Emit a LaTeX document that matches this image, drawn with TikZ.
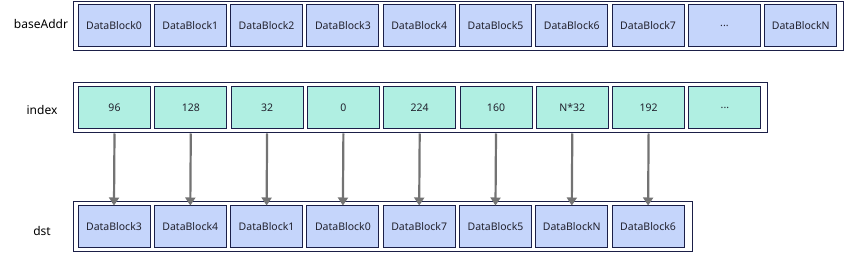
\documentclass[tikz,border=0pt]{standalone}
\usepackage{fontspec}
\setmainfont{Noto Sans}
\usetikzlibrary{arrows.meta}
\definecolor{bfill}{HTML}{C5D5FB}
\definecolor{mfill}{HTML}{B0EFE2}
\definecolor{edgec}{HTML}{1B1F48}
\definecolor{arrc}{HTML}{737373}
\definecolor{txt}{HTML}{22222E}
\newcommand{\mydots}{...}
\begin{document}
\begin{tikzpicture}[x=1pt,y=-1pt,
  frame/.style={draw=edgec,line width=1pt,fill=white,inner sep=0pt},
  cell/.style={draw=edgec,line width=1pt,minimum width=72pt,minimum height=42pt,inner sep=0pt,font=\fontsize{10.5}{12}\selectfont,text=txt},
  bcell/.style={cell,fill=bfill},
  mcell/.style={cell,fill=mfill},
  rowlabel/.style={font=\fontsize{12}{14}\selectfont,text=black},
  link/.style={draw=arrc,line width=2.2pt,-{Triangle[width=10pt,length=8pt]}}]
\useasboundingbox (0,0) rectangle (845,253);
\node[frame,minimum width=770pt,minimum height=49pt] (fa) at (458,26.5) {};
\node[frame,minimum width=694pt,minimum height=50pt] (fi) at (420,108) {};
\node[frame,minimum width=619pt,minimum height=50pt] (fd) at (382.5,227) {};
\node[rowlabel] (la) at (41,24) {baseAddr};
\node[rowlabel] (li) at (42,110) {index};
\node[rowlabel] (ld) at (42,231) {dst};
\foreach \t [count=\i from 0] in {DataBlock0,DataBlock1,DataBlock2,DataBlock3,DataBlock4,DataBlock5,DataBlock6,DataBlock7,\mydots,DataBlockN}
  \node[bcell] (a\i) at ({114+\i*76.3},26) {\t};
\foreach \t [count=\i from 0] in {96,128,32,0,224,160,N*32,192,\mydots}
  \node[mcell] (i\i) at ({114.5+\i*76.3},107.5) {\t};
\foreach \t [count=\i from 0] in {DataBlock3,DataBlock4,DataBlock1,DataBlock0,DataBlock7,DataBlock5,DataBlockN,DataBlock6}
  \node[bcell] (d\i) at ({114+\i*76.3},227) {\t};
\foreach \i in {0,...,7}
  \draw[link] (i\i.south |- fi.south) -- (d\i.north);
\end{tikzpicture}
\end{document}
